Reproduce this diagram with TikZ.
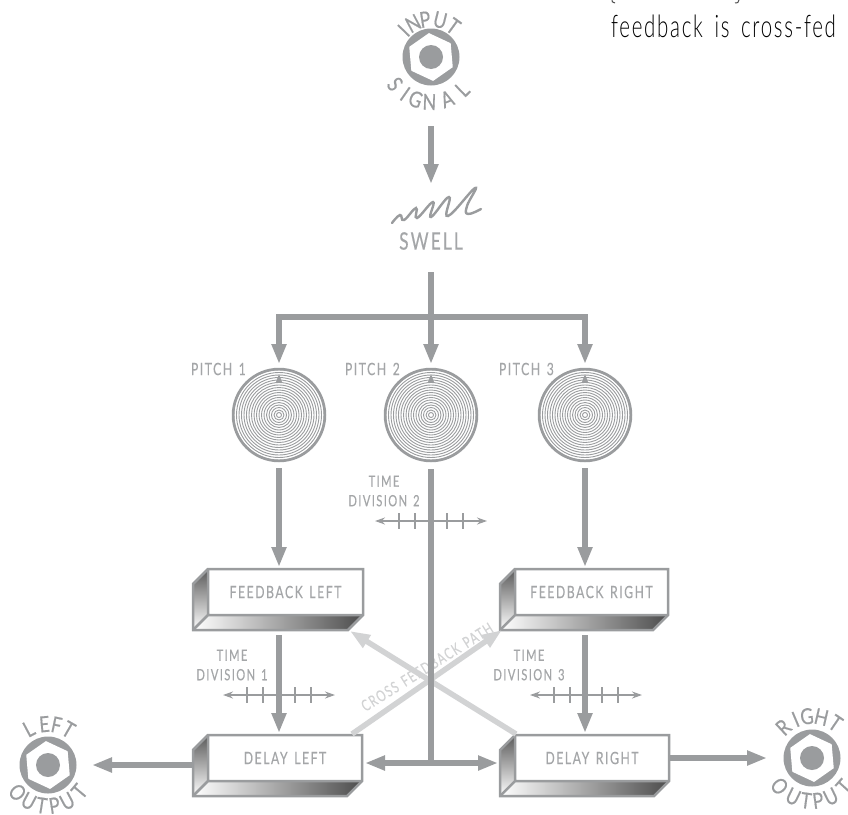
\documentclass[tikz,border=0pt]{standalone}
\usepackage{fontspec}
\setmainfont[FakeStretch=0.72,LetterSpace=9,FakeBold=0.35,WordSpace=1.4]{Lato}
\newfontfamily\notefont[FakeStretch=0.66,LetterSpace=5.5,WordSpace=1.6]{Lato Light}
\newfontfamily\ringfont[FakeStretch=0.82,FakeBold=0.5]{Lato}
\usetikzlibrary{arrows.meta,calc,shadings}
\definecolor{sigcol}{HTML}{9A9C9E}
\definecolor{txtcol}{HTML}{A4A6A8}
\definecolor{crosscol}{HTML}{D2D3D4}
\tikzset{
	headtip/.tip={Triangle[length=20pt,width=14pt]},
	sigline/.style={draw=sigcol,line width=5.5pt,-headtip},
	plainline/.style={draw=sigcol,line width=5.5pt},
	crossline/.style={draw=crosscol,line width=5.5pt,-headtip},
	label/.style={text=txtcol,font=\fontsize{17}{20}\selectfont,align=center,inner sep=0pt},
	smalllabel/.style={text=txtcol,font=\fontsize{15.5}{19.5}\selectfont,align=center,inner sep=0pt},
	ringlabel/.style={text=sigcol,font=\ringfont\fontsize{22}{22}\selectfont,inner sep=0pt},
	timeline/.style={draw=sigcol,line width=1.5pt,{Stealth[length=10pt,width=7pt]}-{Stealth[length=10pt,width=7pt]}},
}
% jack socket with curved lettering: x, y, top letters, top radius, bottom letters, bottom radius
\newcommand{\jack}[6]{%
	\fill[sigcol] (#1,#2) circle[radius=28.5];
	\fill[white] ($(#1,#2)+(-35:24)$)
		\foreach \ang in {95,155,215,275,335} {-- ($(#1,#2)+(-\ang:24)$)} -- cycle;
	\fill[sigcol] (#1,#2) circle[radius=12];
	\foreach \ch/\ang in {#3} {\node[ringlabel,rotate=\ang-90] at ($(#1,#2)+(-\ang:#4)$) {\ch};}
	\foreach \ch/\ang in {#5} {\node[ringlabel,rotate=\ang+90] at ($(#1,#2)+(-\ang:#6)$) {\ch};}
}
% pitch dial
\newcommand{\dial}[3]{%
	\node[circle,minimum size=94,inner sep=0pt] (#3) at (#1,#2) {};
	\foreach \rad in {2.5,5,...,45} {\draw[sigcol,line width=.9pt] (#1,#2) circle[radius=\rad];}
	\draw[sigcol,line width=2.5pt] (#1,#2) circle[radius=46];
	\fill[sigcol] (#1-3,#2-33) -- (#1,#2-41) -- (#1+3,#2-33) -- cycle;
}
% bevelled box, corners given by the front face
\newcommand{\bevelbox}[6]{%
	\node[label,minimum width=#3-#1,minimum height=#4-#2] (#5) at ({(#1+#3)/2},{(#2+#4)/2}) {#6};
	\shade[top color=black!65,bottom color=white] (#1,#2) -- (#1-15,#2+15) -- (#1-15,#4+15) -- (#1,#4) -- cycle;
	\shade[left color=white,right color=black!70] (#1,#4) -- (#1-15,#4+15) -- (#3-15,#4+15) -- (#3,#4) -- cycle;
	\draw[sigcol,line width=2.5pt,line join=miter] (#1,#2) -- (#3,#2) -- (#3,#4) -- (#3-15,#4+15) -- (#1-15,#4+15) -- (#1-15,#2+15) -- cycle;
	\draw[sigcol,line width=2.5pt] (#1,#2) -- (#1,#4) -- (#3,#4) (#1,#4) -- (#1-15,#4+15);
}
\newcommand{\timescale}[2]{%
	\coordinate (tl) at (#1-56,#2);
	\coordinate (tr) at (#1+56,#2);
	\draw[timeline] (tl) -- (tr);
	\foreach \off in {-32,-16,16,32} {\draw[sigcol,line width=1.5pt] (#1+\off,#2-8) -- (#1+\off,#2+8);}
}
\begin{document}
\begin{tikzpicture}[x=1pt,y=-1pt]
	\useasboundingbox (0,0) rectangle (848,814);
	\node[text=black,font=\notefont\fontsize{31}{31}\selectfont,anchor=base west,inner sep=0pt] (note) at (611,37) {feedback is cross-fed};
	% ends of the line above, cut by the page edge
	\draw[black!70,line width=1pt] (612,0) .. controls (612,2) .. (615,3);
	\draw[black!70,line width=1pt] (739,0) .. controls (738,3) .. (735,3);
	% sockets
	\jack{431}{57}{I/136,N/118,P/99,U/76,T/54}{38}{S/-143,I/-125,G/-110,N/-92,A/-69,L/-46}{45}
	\jack{48}{765}{L/118,E/95,F/78,T/60}{41}{O/-138,U/-118,T/-99,P/-81,U/-62,T/-40}{41}
	\jack{812}{758}{R/133,I/113,G/97,H/77,T/56}{42}{O/-139,U/-116,T/-98,P/-82,U/-64,T/-42}{43}
	\coordinate (input) at (431,126);
	\coordinate (swellin) at (431,184);
	\draw[sigline] (input) -- (swellin);
	% swell squiggle
	\draw[sigcol,line width=2.4pt,line cap=round] plot[smooth,tension=.8] coordinates {(392,223) (400,215) (404,220) (416,208) (417,218) (433,202) (431,217) (449,197) (448,216) (475,188) (467,206) (468,214) (481,209)};
	\node[text=txtcol,font=\fontsize{24}{24}\selectfont,inner sep=0pt] (swell) at (431,241) {SWELL};
	% dials
	\dial{279}{415}{pitchone}
	\dial{431}{415}{pitchtwo}
	\dial{585}{415}{pitchthree}
	\node[label,anchor=east] (labone) at (246,369) {PITCH 1};
	\node[label,anchor=east] (labtwo) at (400,369) {PITCH 2};
	\node[label,anchor=east] (labthree) at (554,369) {PITCH 3};
	% boxes
	\bevelbox{208}{569}{363}{615}{fbleft}{FEEDBACK LEFT}
	\bevelbox{515}{569}{668}{615}{fbright}{FEEDBACK RIGHT}
	\bevelbox{208}{735}{362}{781}{dleft}{DELAY LEFT}
	\bevelbox{515}{735}{669}{781}{dright}{DELAY RIGHT}
	% top split
	\coordinate (swellout) at (431,272);
	\coordinate (split) at (431,317);
	\draw[plainline] (swellout) -- (split);
	\draw[sigline] (split) -- (279,317) -- (279,364);
	\draw[sigline] (split) -- (585,317) -- (585,364);
	\draw[sigline] (split) -- (431,364);
	% cross feedback
	\draw[crossline] (352,734) -- (502,630);
	\draw[crossline] (516,734) -- (350,631);
	\node[smalllabel,text=crosscol,rotate=32] (crosslab) at (427,667) {CROSS FEEDBACK PATH};
	% signal paths
	\draw[sigline] (279,468) -- (279,567);
	\draw[sigline] (585,468) -- (585,567);
	\coordinate (fbldown) at (279,635);
	\coordinate (fbrdown) at (585,635);
	\draw[sigline] (fbldown) -- (279,733);
	\draw[sigline] (fbrdown) -- (585,733);
	\coordinate (trunk) at (431,763);
	\draw[plainline] (431,469) -- (trunk);
	\draw[sigline] (trunk) -- (365,763);
	\draw[sigline] (trunk) -- (498,763);
	\draw[sigline] (192,765) -- (92,765);
	\draw[sigline] (670,758) -- (767,758);
	% time division
	\node[smalllabel] (tdtwo) at (384,491) {TIME\\DIVISION 2};
	\timescale{431}{521}
	\node[smalllabel] (tdone) at (232,665) {TIME\\DIVISION 1};
	\timescale{279}{695}
	\node[smalllabel] (tdthree) at (529,665) {TIME\\DIVISION 3};
	\timescale{586}{695}
\end{tikzpicture}
\end{document}
